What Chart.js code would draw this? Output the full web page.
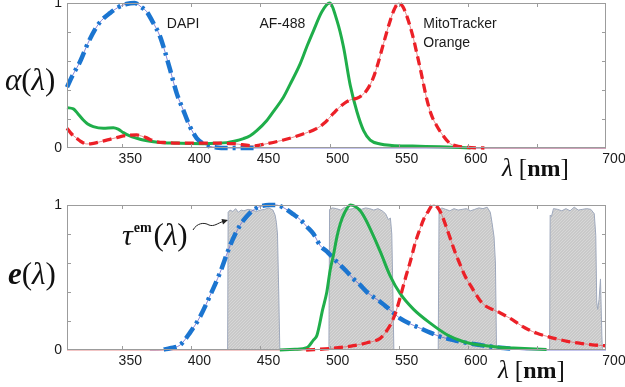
<!DOCTYPE html>
<html><head><meta charset="utf-8">
<script src="https://cdn.jsdelivr.net/npm/chart.js@4.4.1/dist/chart.umd.min.js"></script>
<style>
html,body{margin:0;padding:0;background:#fff;width:625px;height:387px;overflow:hidden}
#c1{position:absolute;left:0;top:0}
#c2{position:absolute;left:0;top:190px}
</style></head><body>
<canvas id="c1" width="625" height="190"></canvas>
<canvas id="c2" width="625" height="197"></canvas>
<script>
// ---------- axis ticks ----------
const xTicks = [350, 400, 450, 500, 550, 600, 650, 700];
const xTickLabels = ['350', '400', '450', '500', '550', '600', '', '700'];
const yTicks = [0, 0.2, 0.4, 0.6, 0.8, 1];
const yTickLabels = ['0', '', '', '', '', '1'];

// ---------- absorption (top) ----------
const absDapiNm  = [310, 314, 319.4, 325, 331.5, 336, 341, 347, 353, 359, 364, 367.7, 372, 377.3, 381, 384.6, 389.4, 394.2, 399, 403.9, 408.7, 413, 418, 425, 445, 700];
const absDapiVal = [0.42, 0.50, 0.595, 0.72, 0.837, 0.89, 0.93, 0.97, 0.993, 1.0, 0.97, 0.94, 0.87, 0.77, 0.66, 0.54, 0.377, 0.26, 0.147, 0.067, 0.03, 0.012, 0.004, 0, 0, 0];

const absAfNm  = [310, 314.6, 318, 321.8, 325, 329, 336.3, 343.5, 347, 350.8, 355, 360.5, 366, 372.5, 380, 389.4, 400, 408.7, 418, 425.6, 431, 437.7, 442.5, 447.3, 454.6, 460, 466.6, 472, 478.7, 484, 488.4, 494.4, 500, 505.3, 510, 515, 519.8, 524.6, 529.4, 536.6, 545, 560, 580, 602];
const absAfVal = [0.278, 0.27, 0.235, 0.193, 0.165, 0.147, 0.136, 0.14, 0.13, 0.106, 0.085, 0.067, 0.053, 0.043, 0.037, 0.034, 0.031, 0.03, 0.032, 0.037, 0.047, 0.065, 0.085, 0.12, 0.19, 0.26, 0.35, 0.45, 0.58, 0.71, 0.81, 0.94, 1.0, 0.88, 0.70, 0.43, 0.25, 0.12, 0.055, 0.028, 0.018, 0.013, 0.008, 0];

const absMtNm  = [310, 313, 317, 320, 324.3, 328, 331.5, 336, 341, 346, 350.8, 355, 360.5, 364, 367.7, 371, 375, 382, 389.4, 400, 413.5, 430.4, 445, 454.6, 466.6, 478.7, 490.8, 496, 502.9, 507, 512.5, 516, 519.8, 523, 527, 531, 534.3, 539, 543.9, 547, 549.9, 553, 556, 560, 563.2, 566, 570.5, 574, 577.7, 581, 587.3, 593, 600, 612, 700];
const absMtVal = [0.136, 0.10, 0.067, 0.045, 0.028, 0.03, 0.037, 0.048, 0.06, 0.072, 0.083, 0.088, 0.09, 0.082, 0.07, 0.055, 0.043, 0.037, 0.034, 0.034, 0.034, 0.03, 0.015, 0.03, 0.055, 0.09, 0.135, 0.17, 0.24, 0.28, 0.32, 0.335, 0.343, 0.36, 0.40, 0.47, 0.56, 0.72, 0.88, 0.96, 1.0, 0.975, 0.906, 0.78, 0.65, 0.53, 0.33, 0.22, 0.15, 0.10, 0.03, 0.012, 0.004, 0, 0];

// ---------- emission (bottom) ----------
const emDapiNm  = [370, 375, 380, 384.6, 391.8, 399, 406.3, 413.5, 420.8, 428, 435.3, 440, 444.9, 450, 456, 461, 466, 473.9, 478.7, 483.6, 488.4, 493.2, 498, 502.8, 507.7, 512.5, 517.3, 522.2, 527, 531.8, 536.6, 544, 551, 558.4, 565.6, 572.8, 580, 587.3, 594.6, 601.8, 609, 616, 623.5, 633, 642, 700];
const emDapiVal = [0, 0, 0.003, 0.012, 0.034, 0.12, 0.23, 0.375, 0.535, 0.72, 0.862, 0.92, 0.966, 0.99, 1.0, 1.0, 0.985, 0.935, 0.9, 0.85, 0.80, 0.72, 0.68, 0.632, 0.585, 0.54, 0.49, 0.448, 0.40, 0.365, 0.333, 0.275, 0.218, 0.18, 0.15, 0.12, 0.092, 0.074, 0.057, 0.045, 0.034, 0.024, 0.016, 0.008, 0, 0];

const emAfNm  = [464, 475, 483.6, 488.4, 490.8, 495, 498, 500.4, 502.9, 505.3, 507.7, 511, 515, 518.5, 522.2, 525.8, 529.4, 536.6, 543.9, 551, 560.8, 572.8, 585, 597, 609, 621, 633, 645, 657];
const emAfVal = [0, 0.005, 0.016, 0.07, 0.10, 0.28, 0.40, 0.55, 0.66, 0.78, 0.87, 0.95, 1.0, 0.99, 0.96, 0.905, 0.835, 0.68, 0.51, 0.39, 0.28, 0.185, 0.105, 0.057, 0.034, 0.02, 0.013, 0.008, 0.004];

const emMtNm  = [310, 483, 500.4, 510, 517.3, 527, 536.6, 540, 543.9, 547.5, 551, 554.7, 558.4, 562, 565.6, 568.5, 571.6, 573.5, 575.5, 578, 581.3, 584, 587.3, 591, 594.6, 598, 601.8, 605.5, 609, 613.5, 618.8, 623.5, 628.4, 633, 638, 644, 650, 657, 664.6, 672, 681.5, 690, 698.4, 700];
const emMtVal = [0, 0, 0.01, 0.02, 0.03, 0.05, 0.08, 0.115, 0.172, 0.25, 0.36, 0.49, 0.61, 0.74, 0.84, 0.91, 0.96, 0.99, 1.0, 0.985, 0.93, 0.86, 0.77, 0.67, 0.586, 0.51, 0.448, 0.39, 0.34, 0.30, 0.276, 0.255, 0.23, 0.205, 0.172, 0.14, 0.115, 0.095, 0.076, 0.06, 0.046, 0.036, 0.03, 0.029];

// ---------- emission filter bands ----------
const band1Nm  = [426.2, 426.6, 428, 430, 432, 434, 436, 438, 441, 444, 447, 450, 453, 456, 459, 460.6, 461.5, 462.3, 463.2, 464];
const band1Val = [0, 0.95, 0.965, 0.955, 0.975, 0.95, 0.965, 0.96, 0.97, 0.965, 0.955, 0.965, 0.97, 0.98, 0.965, 0.93, 0.88, 0.8, 0.4, 0];
const band2Nm  = [499.5, 500, 502, 505, 508, 511, 514, 517, 520, 523, 526, 529, 532, 535, 538, 540.5, 542.5, 544, 545, 545.8, 546.5];
const band2Val = [0, 0.97, 0.98, 0.975, 0.965, 0.985, 0.97, 0.975, 0.985, 0.97, 0.98, 0.975, 0.965, 0.975, 0.96, 0.94, 0.90, 0.91, 0.8, 0.4, 0];
const band3Nm  = [578.6, 579.2, 581, 584, 587, 590, 593, 596, 599, 602, 605, 608, 611, 614, 616.3, 617.5, 619, 620, 620.8];
const band3Val = [0, 0.96, 0.98, 0.97, 0.96, 0.975, 0.965, 0.97, 0.975, 0.96, 0.97, 0.98, 0.975, 0.985, 0.95, 0.88, 0.78, 0.6, 0];
const band4Nm  = [659.2, 659.6, 660.5, 662, 665, 668, 671, 674, 677, 680, 683, 686, 689, 691.5, 692.6, 693.3, 694, 695, 696, 697, 697.4];
const band4Val = [0, 0.93, 0.92, 0.975, 0.97, 0.96, 0.975, 0.96, 0.985, 0.965, 0.97, 0.975, 0.97, 0.94, 0.79, 0.33, 0.28, 0.35, 0.49, 0.1, 0];

// ---------- styling ----------
const SANS = "'Liberation Sans', Arial, sans-serif";
const SERIF = "'Liberation Serif', 'Times New Roman', serif";
const BLUE = '#1b75d0', BLUE_THIN = '#6a6ad0';
const RED = '#ec2027', RED_THIN = '#e07070';
const GREEN = '#1fae4a';

const pts = (nm, val, lo = -Infinity, hi = Infinity) =>
  nm.map((x, i) => ({ x, y: val[i] })).filter(p => p.x >= lo && p.x <= hi);

function line(data, color, width, dash, order) {
  return { data, borderColor: color, borderWidth: width, borderDash: dash || [],
    pointRadius: 0, fill: false, cubicInterpolationMode: 'monotone', order, clip: 5,
    borderCapStyle: 'butt' };
}

function bandPattern() {
  const pc = document.createElement('canvas'); pc.width = 3; pc.height = 3;
  const p = pc.getContext('2d');
  p.fillStyle = '#c9c9c9'; p.fillRect(0, 0, 3, 3);
  p.fillStyle = '#d7d7d7'; p.fillRect(0, 0, 1, 1); p.fillRect(2, 1, 1, 1); p.fillRect(1, 2, 1, 1);
  return document.getElementById('c2').getContext('2d').createPattern(pc, 'repeat');
}
function band(data, pat) {
  return { data, borderColor: '#9ea8bc', borderWidth: 1, backgroundColor: pat,
    pointRadius: 0, fill: 'origin', tension: 0, order: 10 };
}

function drawRich(ctx, x, y, parts) {
  ctx.textBaseline = 'alphabetic';
  for (const p of parts) {
    ctx.font = p.f;
    ctx.fillText(p.t, x, y + (p.dy || 0));
    x += ctx.measureText(p.t).width + (p.sp || 0);
  }
}

const framePlugin = {
  id: 'frame',
  afterDatasetsDraw(chart, args, opts) {
    const { ctx, chartArea: a, scales: { x, y } } = chart;
    ctx.save();
    ctx.strokeStyle = '#9c9c9c'; ctx.lineWidth = 1;
    ctx.strokeRect(a.left + 0.5, a.top + 0.5, a.right - a.left - 1, a.bottom - a.top - 1);
    ctx.beginPath();
    xTicks.forEach(v => {
      if (v >= 700) return;
      const px = Math.round(x.getPixelForValue(v)) + 0.5;
      ctx.moveTo(px, a.top); ctx.lineTo(px, a.top + 4);
      ctx.moveTo(px, a.bottom); ctx.lineTo(px, a.bottom - 4);
    });
    yTicks.forEach(v => {
      if (v <= 0 || v >= 1) return;
      const py = Math.round(y.getPixelForValue(v)) + 0.5;
      ctx.moveTo(a.left, py); ctx.lineTo(a.left + 4, py);
      ctx.moveTo(a.right, py); ctx.lineTo(a.right - 4, py);
    });
    ctx.stroke();
    ctx.fillStyle = '#1a1a1a';
    (opts.labels || []).forEach(l => {
      ctx.font = '14px ' + SANS; ctx.textBaseline = 'middle'; ctx.textAlign = 'left';
      ctx.fillText(l.t, x.getPixelForValue(l.x), y.getPixelForValue(l.y));
    });
    ctx.textAlign = 'left';
    if (opts.draw) opts.draw(ctx, a);
    ctx.restore();
  }
};

function options(padTop, xAxisH, frameOpts) {
  return {
    responsive: false, animation: false, devicePixelRatio: 1,
    layout: { padding: { left: 0, top: padTop, right: 19, bottom: 0 } },
    plugins: { legend: { display: false }, tooltip: { enabled: false }, frame: frameOpts },
    scales: {
      x: {
        type: 'linear', min: 310, max: 700,
        afterBuildTicks: s => { s.ticks = xTicks.map(v => ({ value: v })); },
        afterFit: s => { s.height = xAxisH; s.paddingLeft = 0; s.paddingRight = 0; },
        grid: { display: false, drawTicks: false }, border: { display: false },
        ticks: { labelOffset: 8, padding: 3, color: '#1a1a1a', maxRotation: 0, autoSkip: false,
          callback: (v, i) => xTickLabels[i], font: { family: SANS, size: 14 } }
      },
      y: {
        min: 0, max: 1,
        afterBuildTicks: s => { s.ticks = yTicks.map(v => ({ value: v })); },
        afterFit: s => { s.width = 67; s.paddingTop = 0; s.paddingBottom = 0; },
        grid: { display: false, drawTicks: false }, border: { display: false },
        ticks: { padding: 5, color: '#1a1a1a', autoSkip: false,
          callback: (v, i) => yTickLabels[i], font: { family: SANS, size: 14 } }
      }
    }
  };
}

function lambdaNm(ctx, x, yBase) {
  ctx.fillStyle = '#111';
  drawRich(ctx, x, yBase, [
    { t: 'λ', f: 'italic 25px ' + SERIF, sp: 6 },
    { t: '[', f: '25px ' + SERIF },
    { t: 'nm', f: 'bold 24px ' + SERIF },
    { t: ']', f: '25px ' + SERIF }
  ]);
}

// ---------- top chart ----------
new Chart(document.getElementById('c1'), {
  type: 'line',
  data: { datasets: [
    line(pts(absMtNm, absMtVal, -Infinity, 612), RED, 3.3, [9, 5], 1),
    line(pts(absAfNm, absAfVal), GREEN, 3, [], 2),
    line(pts(absDapiNm, absDapiVal, -Infinity, 445), BLUE, 4.5, [13, 5, 3, 5], 3),
    line(pts(absMtNm, absMtVal), RED_THIN, 0.8, [], 5),
    line(pts(absDapiNm, absDapiVal), BLUE_THIN, 0.8, [], 5)
  ] },
  options: options(3, 42, {
    labels: [
      { t: 'DAPI', x: 382.2, y: 0.855 },
      { t: 'AF-488', x: 449.2, y: 0.855 },
      { t: 'MitoTracker', x: 567.8, y: 0.855 },
      { t: 'Orange', x: 567.8, y: 0.726 }
    ],
    draw(ctx, a) {
      ctx.fillStyle = '#111';
      drawRich(ctx, 5, 90, [
        { t: 'α', f: 'italic 31px ' + SERIF },
        { t: '(', f: '31px ' + SERIF },
        { t: 'λ', f: 'italic 31px ' + SERIF },
        { t: ')', f: '31px ' + SERIF }
      ]);
      lambdaNm(ctx, 502, 176);
    }
  }),
  plugins: [framePlugin]
});

// ---------- bottom chart ----------
const pat = bandPattern();
new Chart(document.getElementById('c2'), {
  type: 'line',
  data: { datasets: [
    line(pts(emMtNm, emMtVal, 483, Infinity), RED, 3.3, [9, 5], 1),
    line(pts(emAfNm, emAfVal), GREEN, 3, [], 2),
    line(pts(emDapiNm, emDapiVal, 380, 633), BLUE, 4.5, [13, 5, 3, 5], 3),
    line(pts(emMtNm, emMtVal), RED_THIN, 0.8, [], 5),
    line(pts(emDapiNm, emDapiVal), BLUE_THIN, 0.8, [], 5),
    band(pts(band1Nm, band1Val), pat),
    band(pts(band2Nm, band2Val), pat),
    band(pts(band3Nm, band3Val), pat),
    band(pts(band4Nm, band4Val), pat)
  ] },
  options: options(15, 37, {
    labels: [],
    draw(ctx, a) {
      ctx.fillStyle = '#111';
      drawRich(ctx, 8, 94, [
        { t: 'e', f: 'bold italic 31px ' + SERIF },
        { t: '(', f: '31px ' + SERIF },
        { t: 'λ', f: 'italic 31px ' + SERIF },
        { t: ')', f: '31px ' + SERIF }
      ]);
      drawRich(ctx, 122, 55, [
        { t: 'τ', f: 'italic 30px ' + SERIF, sp: 1 },
        { t: 'em', f: 'bold 14px ' + SERIF, dy: -13, sp: 2 },
        { t: '(', f: '31px ' + SERIF },
        { t: 'λ', f: 'italic 31px ' + SERIF },
        { t: ')', f: '31px ' + SERIF }
      ]);
      // curly arrow
      ctx.strokeStyle = '#222'; ctx.lineWidth = 1;
      ctx.beginPath();
      ctx.moveTo(193, 40);
      ctx.bezierCurveTo(197, 33, 204, 32, 209, 35);
      ctx.bezierCurveTo(214, 37, 218, 33, 223, 31.5);
      ctx.stroke();
      ctx.fillStyle = '#222';
      ctx.beginPath();
      ctx.moveTo(228, 30); ctx.lineTo(221.5, 29); ctx.lineTo(223, 34.5); ctx.closePath(); ctx.fill();
      lambdaNm(ctx, 498, 188);
    }
  }),
  plugins: [framePlugin]
});
</script>
</body></html>
